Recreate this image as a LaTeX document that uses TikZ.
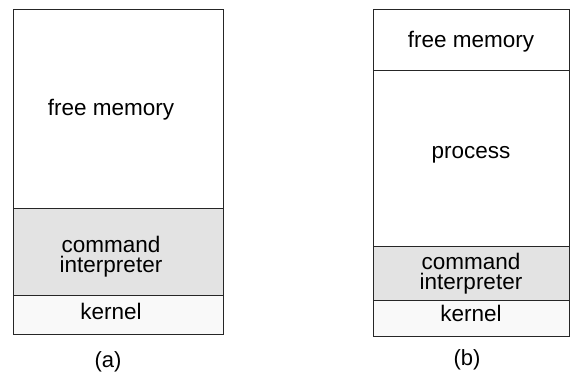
\documentclass[tikz,border=0pt]{standalone}
\usepackage{fontspec}
\setmainfont{Liberation Sans}
\begin{document}
\begin{tikzpicture}[x=1pt,y=-1pt,
  outline/.style={draw=black!85, line width=0.9pt},
  sep/.style={draw=black!85, line width=1pt},
  cmdfill/.style={fill=gray!22},
  kernfill/.style={fill=gray!5},
  lbl/.style={font=\fontsize{22.5}{20}\selectfont, align=center, inner sep=0pt, text=black},
  captxt/.style={font=\fontsize{22}{22}\selectfont, inner sep=0pt, anchor=base, text=black}]
\useasboundingbox (0,0) rectangle (571,374);
% ---------- (a) ----------
\fill[cmdfill] (13,209) rectangle (223,296);
\fill[kernfill] (13,296) rectangle (223,334);
\draw[sep] (13,209) coordinate (a1l) -- (223,209) coordinate (a1r);
\draw[sep] (13,296) coordinate (a2l) -- (223,296) coordinate (a2r);
\draw[outline] (13,9) rectangle (223,334);
\node[lbl, anchor=base] (afree) at (111,116) {free memory};
\node[lbl] (acmd) at (111,257) {command\\interpreter};
\node[lbl, anchor=base] (akern) at (111,320) {kernel};
\node[captxt] (acap) at (108,368) {(a)};
% ---------- (b) ----------
\fill[cmdfill] (373,247) rectangle (569,301);
\fill[kernfill] (373,301) rectangle (569,336);
\draw[sep] (373,71) coordinate (b0l) -- (569,71) coordinate (b0r);
\draw[sep] (373,247) coordinate (b1l) -- (569,247) coordinate (b1r);
\draw[sep] (373,301) coordinate (b2l) -- (569,301) coordinate (b2r);
\draw[outline] (373,9) rectangle (569,336);
\node[lbl, anchor=base] (bfree) at (471,48) {free memory};
\node[lbl, anchor=base] (bproc) at (471,159) {process};
\node[lbl] (bcmd) at (471,274) {command\\interpreter};
\node[lbl, anchor=base] (bkern) at (471,322) {kernel};
\node[captxt] (bcap) at (467,366) {(b)};
\end{tikzpicture}
\end{document}
